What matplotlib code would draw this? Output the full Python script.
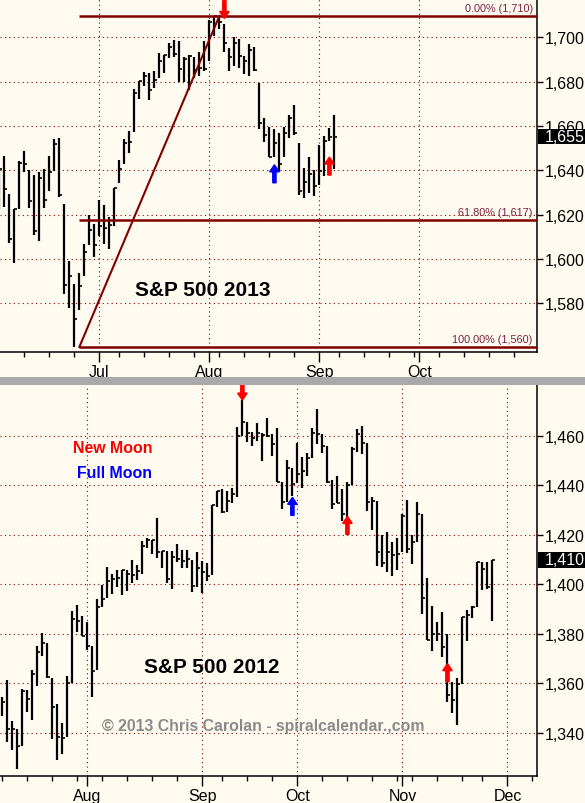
import numpy as np
import pandas as pd
import matplotlib
matplotlib.use("Agg")
import matplotlib.pyplot as plt
from matplotlib.transforms import blended_transform_factory
from matplotlib.patches import Rectangle, FancyArrow
from matplotlib.ticker import FixedLocator, FuncFormatter

plt.rcParams['font.family'] = ['Liberation Sans', 'DejaVu Sans']

# ---------------- data: S&P 500 2013 (HLC) ----------------
start_2013 = "2013-06-03"
holidays_2013 = ["2013-07-04", "2013-09-02", "2013-11-28"]
high_2013 = [1640.42, 1646.53, 1629.31, 1622.72, 1644.40, 1648.69, 1640.13, 1637.71, 1639.25, 1640.80,
             1646.50, 1654.19, 1654.75, 1624.62, 1599.19, 1588.77, 1593.79, 1606.85, 1620.07, 1615.94,
             1626.61, 1624.26, 1618.97, 1632.07, 1644.68, 1654.18, 1657.92, 1676.63, 1680.19, 1684.51,
             1683.73, 1684.75, 1693.12, 1692.09, 1697.61, 1698.78, 1698.38, 1690.94, 1691.85, 1690.92,
             1693.19, 1698.43, 1707.85, 1709.67, 1709.24, 1705.80, 1695.30, 1700.18, 1699.42, 1691.49,
             1696.81, 1695.52, 1679.61, 1663.60, 1659.60, 1658.59, 1656.96, 1659.35, 1664.85, 1669.51,
             1652.54, 1641.18, 1646.20, 1640.08, 1651.35, 1655.72, 1659.11, 1664.83]
low_2013 = [1622.72, 1623.62, 1607.09, 1598.23, 1622.72, 1639.26, 1622.92, 1610.92, 1608.07, 1622.92,
            1630.88, 1639.77, 1628.05, 1584.32, 1577.70, 1560.33, 1577.09, 1592.43, 1606.44, 1601.06,
            1610.17, 1606.77, 1604.57, 1614.71, 1634.20, 1642.89, 1647.66, 1657.41, 1672.33, 1677.89,
            1671.84, 1677.06, 1681.86, 1684.08, 1690.67, 1691.13, 1680.00, 1680.07, 1676.03, 1681.86,
            1682.42, 1684.94, 1689.40, 1700.68, 1703.55, 1693.29, 1684.91, 1687.11, 1686.02, 1683.35,
            1682.62, 1684.83, 1658.59, 1652.61, 1645.84, 1646.13, 1639.43, 1645.84, 1654.81, 1656.02,
            1629.05, 1627.47, 1630.00, 1628.60, 1633.41, 1637.41, 1653.07, 1640.62]
close_2013 = [1640.42, 1631.38, 1608.90, 1622.56, 1643.38, 1642.81, 1626.13, 1612.52, 1636.36, 1626.73,
              1639.04, 1651.81, 1628.93, 1588.19, 1592.43, 1573.09, 1588.03, 1603.26, 1613.20, 1606.28,
              1614.96, 1614.08, 1615.41, 1631.89, 1640.46, 1652.32, 1652.62, 1675.02, 1680.19, 1682.50,
              1676.26, 1680.91, 1689.37, 1692.09, 1695.53, 1692.39, 1685.94, 1690.25, 1691.65, 1685.33,
              1685.96, 1685.73, 1706.87, 1709.67, 1707.14, 1697.37, 1690.91, 1697.48, 1691.42, 1689.47,
              1694.16, 1685.39, 1661.32, 1655.83, 1646.06, 1652.35, 1642.80, 1656.96, 1663.50, 1656.78,
              1630.48, 1634.96, 1638.17, 1632.97, 1639.77, 1653.08, 1655.08, 1655.17]

# ---------------- data: S&P 500 2012 (HLC) ----------------
start_2012 = "2012-07-09"
holidays_2012 = ["2012-09-03", "2012-10-29", "2012-10-30", "2012-11-22", "2012-12-25"]
high_2012 = [1354.65, 1361.54, 1345.00, 1341.45, 1357.70, 1357.26, 1365.36, 1375.26, 1380.39, 1376.51,
             1362.34, 1351.53, 1343.98, 1363.13, 1389.19, 1391.74, 1387.16, 1385.03, 1375.32, 1394.16,
             1399.63, 1407.14, 1404.14, 1405.95, 1405.98, 1405.87, 1410.03, 1407.73, 1417.44, 1418.71,
             1418.13, 1426.68, 1413.49, 1413.49, 1413.46, 1416.17, 1413.95, 1413.95, 1410.08, 1413.09,
             1409.31, 1408.81, 1432.12, 1437.92, 1438.74, 1437.76, 1439.15, 1463.46, 1474.51, 1465.63,
             1461.47, 1465.15, 1461.23, 1467.07, 1460.72, 1463.24, 1441.60, 1450.20, 1447.15, 1457.14,
             1451.52, 1453.09, 1463.14, 1470.96, 1460.93, 1455.90, 1442.19, 1443.99, 1438.43, 1441.31,
             1455.51, 1462.76, 1464.02, 1457.34, 1435.46, 1433.82, 1420.04, 1421.14, 1417.14, 1418.76,
             1428.35, 1434.27, 1419.90, 1433.38, 1428.39, 1402.76, 1391.39, 1384.87, 1388.81, 1380.13,
             1360.62, 1362.03, 1386.89, 1389.77, 1391.25, 1409.16, 1409.15, 1409.01, 1410.00]
low_2012 = [1346.65, 1336.27, 1333.25, 1325.41, 1334.76, 1348.51, 1345.07, 1358.96, 1371.21, 1362.19,
            1337.56, 1329.24, 1331.50, 1338.17, 1360.05, 1380.96, 1379.17, 1373.35, 1354.65, 1365.45,
            1391.04, 1394.46, 1396.13, 1398.80, 1395.62, 1397.32, 1400.60, 1401.83, 1404.15, 1414.67,
            1412.12, 1410.86, 1406.70, 1400.50, 1398.04, 1409.11, 1406.57, 1406.57, 1397.01, 1398.96,
            1396.56, 1401.25, 1403.85, 1431.45, 1428.98, 1429.13, 1432.99, 1435.34, 1460.07, 1457.55,
            1456.13, 1457.88, 1449.98, 1459.51, 1452.06, 1441.59, 1430.53, 1433.32, 1435.60, 1440.90,
            1439.01, 1443.65, 1451.02, 1456.89, 1453.10, 1440.90, 1430.64, 1432.82, 1425.53, 1427.24,
            1440.31, 1453.35, 1452.63, 1429.85, 1422.06, 1407.56, 1407.10, 1405.14, 1403.28, 1405.95,
            1413.18, 1412.91, 1408.13, 1417.26, 1388.14, 1377.51, 1373.03, 1377.19, 1370.78, 1352.50,
            1348.05, 1343.35, 1359.88, 1377.04, 1386.39, 1391.03, 1397.68, 1398.03, 1385.43]
close_2012 = [1352.46, 1341.47, 1341.45, 1334.76, 1356.78, 1353.64, 1363.67, 1372.78, 1376.51, 1362.66,
              1350.52, 1338.31, 1337.89, 1360.02, 1385.97, 1385.30, 1379.32, 1375.32, 1365.00, 1390.99,
              1394.23, 1401.35, 1402.22, 1402.80, 1405.87, 1404.11, 1403.93, 1405.53, 1415.51, 1418.16,
              1418.13, 1413.17, 1413.49, 1402.08, 1411.13, 1410.44, 1409.30, 1410.49, 1399.48, 1406.58,
              1404.94, 1403.44, 1432.12, 1437.92, 1429.08, 1433.56, 1436.56, 1459.99, 1465.77, 1461.19,
              1459.32, 1461.05, 1460.26, 1460.15, 1456.89, 1441.59, 1433.32, 1447.15, 1440.67, 1444.49,
              1445.75, 1450.99, 1461.40, 1460.93, 1455.88, 1441.48, 1432.56, 1432.84, 1428.59, 1440.13,
              1454.92, 1460.91, 1457.34, 1433.19, 1433.82, 1413.11, 1408.75, 1412.97, 1411.94, 1412.16,
              1427.59, 1414.20, 1417.26, 1428.39, 1394.53, 1377.51, 1379.85, 1380.03, 1374.53, 1355.49,
              1353.33, 1359.88, 1386.89, 1387.81, 1391.03, 1409.15, 1406.29, 1398.94, 1409.93]

# moon markers (date, arrow tip value, direction, phase)
moon_dates_2013 = ["2013-08-06", "2013-08-20", "2013-09-05"]
moon_tips_2013 = [1708.5, 1642.5, 1646.0]
moon_dirs_2013 = ["down", "up", "up"]
moon_kind_2013 = ["new", "full", "new"]
moon_dates_2012 = ["2012-09-14", "2012-09-28", "2012-10-15", "2012-11-14"]
moon_tips_2012 = [1474.5, 1435.2, 1427.5, 1368.0]
moon_dirs_2012 = ["down", "up", "up", "up"]
moon_kind_2012 = ["new", "full", "new", "new"]

yticks_2013 = [1580, 1600, 1620, 1640, 1660, 1680, 1700]
yticks_2012 = [1340, 1360, 1380, 1400, 1420, 1440, 1460]
fib_pcts = [0.0, 61.8, 100.0]

# ---------------- styling ----------------
BG = '#FFFBF0'
GRID = '#8B0000'
FIB = '#800000'
FIBTXT = '#7a1f3d'
W, H = 585, 804
fig = plt.figure(figsize=(W / 100, H / 100), dpi=100)
fig.patch.set_facecolor(BG)

ax1 = fig.add_axes([0, (H - 353) / H, 537 / W, 353 / H])
ax2 = fig.add_axes([0, (H - 777) / H, 537 / W, 391 / H])

fig.add_artist(Rectangle((0, (H - 386) / H), 1, 8 / H, transform=fig.transFigure,
                         facecolor='#A9A9A9', edgecolor='none'))


def calendar(start, end, holidays):
    return pd.bdate_range(start, end, freq='C', holidays=holidays)


def setup(ax, start, end, holidays, highs, lows, closes, xlim, ylim, yticks,
          mdates, mtips, mdirs, mkinds):
    cal = calendar(start, end, holidays)
    n = len(closes)
    x = np.arange(n)
    ax.set_facecolor(BG)
    ax.set_xlim(*xlim)
    ax.set_ylim(*ylim)
    # bars
    ax.vlines(x, lows, highs, color='black', lw=1.6, zorder=3)
    ax.hlines(closes, x, x + 0.6, color='black', lw=1.2, zorder=3)
    # month / week ticks (only those well inside the view)
    s = pd.Series(np.arange(len(cal)), index=cal)
    months = s.groupby([cal.year, cal.month]).first().values
    months = [m for m in months if xlim[0] + 2 < m < xlim[1] - 2]
    iso = cal.isocalendar()
    weeks = s.groupby([iso.year.values, iso.week.values]).first().values
    mlabels = [cal[i].strftime('%b') for i in months]
    ax.set_xticks(months)
    ax.set_xticklabels(mlabels)
    ax.xaxis.set_minor_locator(FixedLocator(weeks))
    ax.yaxis.tick_right()
    ax.set_yticks(yticks)
    ax.yaxis.set_major_formatter(FuncFormatter(lambda v, p: f'{v:,.0f}'))
    ax.tick_params(axis='x', which='major', length=7, width=1, pad=1.5, labelsize=11.5, direction='out')
    ax.tick_params(axis='x', which='minor', length=3.5, width=1, direction='out')
    ax.tick_params(axis='y', which='major', length=4.3, width=1, pad=1.5, labelsize=11.5, direction='out')
    for sp in ['left', 'top']:
        ax.spines[sp].set_visible(False)
    for sp in ['right', 'bottom']:
        ax.spines[sp].set_linewidth(1.1)
    ax.grid(True, which='major', color=GRID, lw=0.8, linestyle=(0, (1, 3)), zorder=1)
    ax.set_axisbelow(True)
    # last value box
    bt = blended_transform_factory(ax.transAxes, ax.transData)
    hpx = ax.get_position().height * H
    boxh = (ylim[1] - ylim[0]) * 15.5 / hpx
    last = closes[-1]
    ax.add_patch(Rectangle((1.0015, last - boxh / 2), 0.2, boxh, transform=bt,
                           facecolor='black', edgecolor='none', clip_on=False, zorder=10))
    ax.text(8 / 537 + 1.0, last, f'{last:,.0f}', transform=bt, color='white', fontsize=11.5,
            ha='left', va='center', clip_on=False, zorder=11)
    # moon arrows
    date_index = {d: i for i, d in enumerate(cal)}
    ypp = (ylim[1] - ylim[0]) / hpx
    alen = 18 * ypp
    hlen = 7 * ypp
    for d, tip, dr, k in zip(mdates, mtips, mdirs, mkinds):
        xi = date_index[pd.Timestamp(d)]
        col = '#FF0000' if k == 'new' else '#0000FF'
        if dr == 'up':
            y0, dy = tip - alen, alen
        else:
            y0, dy = tip + alen, -alen
        ax.add_patch(FancyArrow(xi, y0, 0, dy, width=0.65, head_width=1.9, head_length=hlen,
                                length_includes_head=True, color=col, zorder=6))
    return x


x13 = setup(ax1, start_2013, "2013-11-15", holidays_2013, high_2013, low_2013, close_2013,
            (0.14, 107.5), (1558.05, 1717.3), yticks_2013,
            moon_dates_2013, moon_tips_2013, moon_dirs_2013, moon_kind_2013)
x12 = setup(ax2, start_2012, "2012-12-15", holidays_2012, high_2012, low_2012, close_2012,
            (-0.46, 106.9), (1322.6, 1480.6), yticks_2012,
            moon_dates_2012, moon_tips_2012, moon_dirs_2012, moon_kind_2012)

# Fibonacci retracement on 2013
lo_i = int(np.argmin(low_2013))
hi_i = int(np.argmax(high_2013))
lo_v, hi_v = low_2013[lo_i], high_2013[hi_i]
xr = ax1.get_xlim()[1]
ax1.plot([lo_i + 1, hi_i + 1], [lo_v, hi_v], color=FIB, lw=1.5, zorder=4)
bt1 = blended_transform_factory(ax1.transAxes, ax1.transData)
for p in fib_pcts:
    lv = hi_v - p / 100 * (hi_v - lo_v)
    ax1.plot([lo_i + 1, xr], [lv, lv], color=FIB, lw=1.8, zorder=4, solid_capstyle='butt')
    ax1.annotate(f'{p:.2f}% ({lv:,.0f})', xy=(0.992, lv), xycoords=bt1, xytext=(0, 2.2),
                 textcoords='offset points', ha='right', va='bottom', fontsize=7.8,
                 color=FIBTXT, zorder=5)

ax1.text(0.378, 0.178, 'S&P 500 2013', transform=ax1.transAxes, ha='center', va='center',
         fontsize=15, fontweight='bold', color='black')
ax2.text(0.2095, 0.839, 'New Moon', transform=ax2.transAxes, ha='center', va='center',
         fontsize=11.4, fontweight='bold', color='#FF0000')
ax2.text(0.213, 0.777, 'Full Moon', transform=ax2.transAxes, ha='center', va='center',
         fontsize=11.4, fontweight='bold', color='#0000FF')
ax2.text(0.395, 0.279, 'S&P 500 2012', transform=ax2.transAxes, ha='center', va='center',
         fontsize=15, fontweight='bold', color='black')
ax2.text(0.49, 0.128, '\u00a9 2013 Chris Carolan - spiralcalendar.,com', transform=ax2.transAxes,
         ha='center', va='center', fontsize=11.4, fontweight='bold', color='#8a8a8a')

fig.savefig('out.png', dpi=100, facecolor=BG)
